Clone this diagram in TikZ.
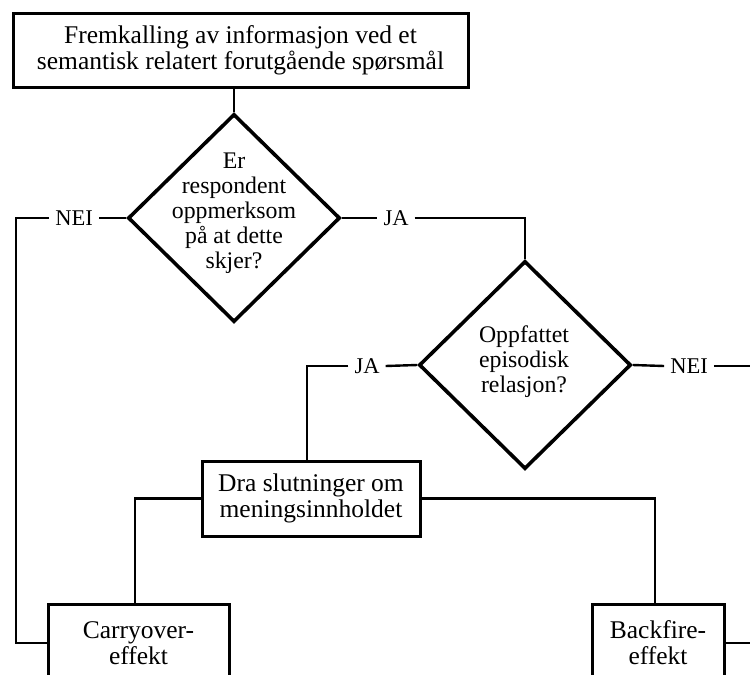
\documentclass[tikz,border=0pt]{standalone}
\usepackage{fontspec}
\setmainfont{Liberation Serif}
\usetikzlibrary{shapes.geometric}
\newcommand\myboxfont{\fontsize{25.5}{26}\selectfont}
\newcommand\mydiafont{\fontsize{23.8}{25}\selectfont}
\newcommand\mylabfont{\fontsize{22.5}{24}\selectfont}
\begin{document}
\begin{tikzpicture}[x=1pt,y=-1pt,
  box/.style={draw, line width=3pt, align=center, font=\myboxfont, inner sep=2pt},
  dia/.style={draw, diamond, line width=3.6pt, minimum width=212pt, minimum height=208pt, inner sep=0pt},
  dtext/.style={align=center, font=\mydiafont, inner sep=0pt},
  lab/.style={font=\mylabfont, inner xsep=6pt, inner ysep=0pt},
  conn/.style={line width=2.4pt}]
\clip (0,0) rectangle (750,675);
% boxes
\node[box, minimum width=455pt, minimum height=74pt] (top) at (240.5,50)
  {Fremkalling av informasjon ved et\\semantisk relatert forutgående spørsmål};
\node[box, minimum width=218pt, minimum height=75pt] (dra) at (311,498.5)
  {Dra slutninger om\\meningsinnholdet};
\node[box, minimum width=181pt, minimum height=78pt] (carry) at (138.5,643)
  {Carryover-\\effekt};
\node[box, minimum width=132pt, minimum height=78pt] (bf) at (658,643)
  {Backfire-\\effekt};
% diamonds
\node[dia] (d1) at (234,218) {};
\node[dtext] (d1t) at (234,213) {Er\\respondent\\oppmerksom\\på at dette\\skjer?};
\node[dia] (d2) at (525,365) {};
\node[dtext] (d2t) at (524,362) {Oppfattet\\episodisk\\relasjon?};
% labels
\node[lab] (nei1) at (74,218) {NEI};
\node[lab] (ja1) at (396,218) {JA};
\node[lab] (ja2) at (367,366) {JA};
\node[lab] (nei2) at (689,366) {NEI};
% free ends / corners
\coordinate (lcorner) at (16,218);
\coordinate (rend1) at (750,366);
\coordinate (rend2) at (750,643);
% connectors
\draw[conn] (top.south -| d1.north) -- (d1.north);
\draw[conn] (d1.west) -- (nei1.east);
\draw[conn] (nei1.west) -- (lcorner) |- (carry.west);
\draw[conn] (d1.east) -- (ja1.west);
\draw[conn] (ja1.east) -| (d2.north);
\draw[conn] (d2.west) -- (ja2.east);
\draw[conn] (ja2.west) -| ([xshift=-4pt]dra.north);
\draw[conn] (d2.east) -- (nei2.west);
\draw[conn] (nei2.east) -- (rend1);
\draw[conn] (dra.west) -| ([xshift=-3.5pt]carry.north);
\draw[conn] (dra.east) -| ([xshift=-3pt]bf.north);
\draw[conn] (bf.east) -- (rend2);
\end{tikzpicture}
\end{document}
